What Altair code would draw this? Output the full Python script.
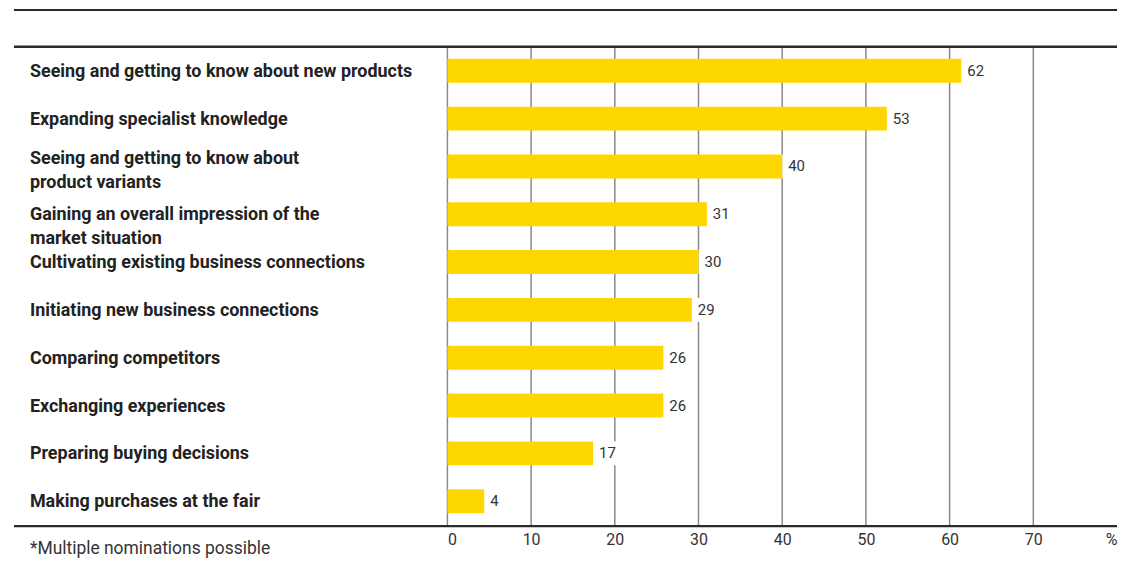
import altair as alt
import pandas as pd

categories = [
    "Seeing and getting to know about new products",
    "Expanding specialist knowledge",
    "Seeing and getting to know about|product variants",
    "Gaining an overall impression of the|market situation",
    "Cultivating existing business connections",
    "Initiating new business connections",
    "Comparing competitors",
    "Exchanging experiences",
    "Preparing buying decisions",
    "Making purchases at the fair",
]
values = [61.4, 52.5, 40.0, 31.0, 30.0, 29.2, 25.8, 25.8, 17.4, 4.4]
value_labels = ["62", "53", "40", "31", "30", "29", "26", "26", "17", "4"]
tick_values = [0, 10, 20, 30, 40, 50, 60, 70, 80]
grid_values = [0, 10, 20, 30, 40, 50, 60, 70]
footnote = "*Multiple nominations possible"

df = pd.DataFrame({"cat": categories, "value": values, "label": value_labels})
grid_df = pd.DataFrame({"g": grid_values})
one = pd.DataFrame({"a": [0]})

FONT = "Roboto"
W, H = 672, 480

y_enc = alt.Y("cat:N", sort=None, axis=None,
              scale=alt.Scale(paddingInner=0.5, paddingOuter=0.25))
x_scale = alt.Scale(domain=[0, 80], nice=False, zero=True)

grid = alt.Chart(grid_df).mark_rule(color="#8a8a8a", strokeWidth=1.5).encode(
    x=alt.X("g:Q", scale=x_scale),
    y=alt.value(0), y2=alt.value(H),
)

label_bg = alt.Chart(df).transform_calculate(
    vend="datum.value + 3.2"
).mark_bar(color="white").encode(
    x=alt.X("value:Q", scale=x_scale), x2="vend:Q", y=y_enc)

bars = alt.Chart(df).mark_bar(color="#FFD700").encode(
    x=alt.X("value:Q", scale=x_scale,
            axis=alt.Axis(values=tick_values,
                          labelExpr="datum.value == 80 ? '%' : datum.label",
                          grid=False, domain=False, ticks=False, title=None,
                          labelFontSize=16, labelColor="#333333", labelFont=FONT,
                          labelPadding=6)),
    y=y_enc,
)

vals = alt.Chart(df).mark_text(align="left", baseline="middle", dx=6, fontSize=15,
                               font=FONT, color="#333333").encode(
    x=alt.X("value:Q", scale=x_scale), y=y_enc, text="label:N")

cat_style = dict(align="left", baseline="middle", lineBreak="|", lineHeight=24,
                 fontSize=18, fontWeight="bold", font=FONT, color="#222222")

raised = categories[2]

cats1 = alt.Chart(df).transform_filter(
    alt.datum.cat != raised
).mark_text(dy=1, **cat_style).encode(
    x=alt.value(-419), y=y_enc, text="cat:N")

cats2 = alt.Chart(df).transform_filter(
    alt.datum.cat == raised
).mark_text(dy=-7, **cat_style).encode(
    x=alt.value(-419), y=y_enc, text="cat:N")

top_line = alt.Chart(one).mark_rule(color="#2a2a2a", strokeWidth=2).encode(
    x=alt.value(-435), x2=alt.value(W), y=alt.value(-37))
mid_line = alt.Chart(one).mark_rule(color="#2a2a2a", strokeWidth=2.5).encode(
    x=alt.value(-435), x2=alt.value(W), y=alt.value(0))
bot_line = alt.Chart(one).mark_rule(color="#2a2a2a", strokeWidth=2.5).encode(
    x=alt.value(-435), x2=alt.value(W), y=alt.value(H + 1))

note = alt.Chart(one).mark_text(align="left", baseline="middle", fontSize=17.5,
                                font=FONT, color="#333333").encode(
    x=alt.value(-419), y=alt.value(H + 24), text=alt.value(footnote))

chart = alt.layer(grid, label_bg, bars, vals, cats1, cats2, top_line, mid_line,
                  bot_line, note).properties(
    width=W, height=H,
    padding={"left": 4, "top": 0, "right": 0, "bottom": 0},
    background="white",
).configure_view(stroke=None)

chart.save("out.html", embed_options={"renderer": "svg", "actions": False})
